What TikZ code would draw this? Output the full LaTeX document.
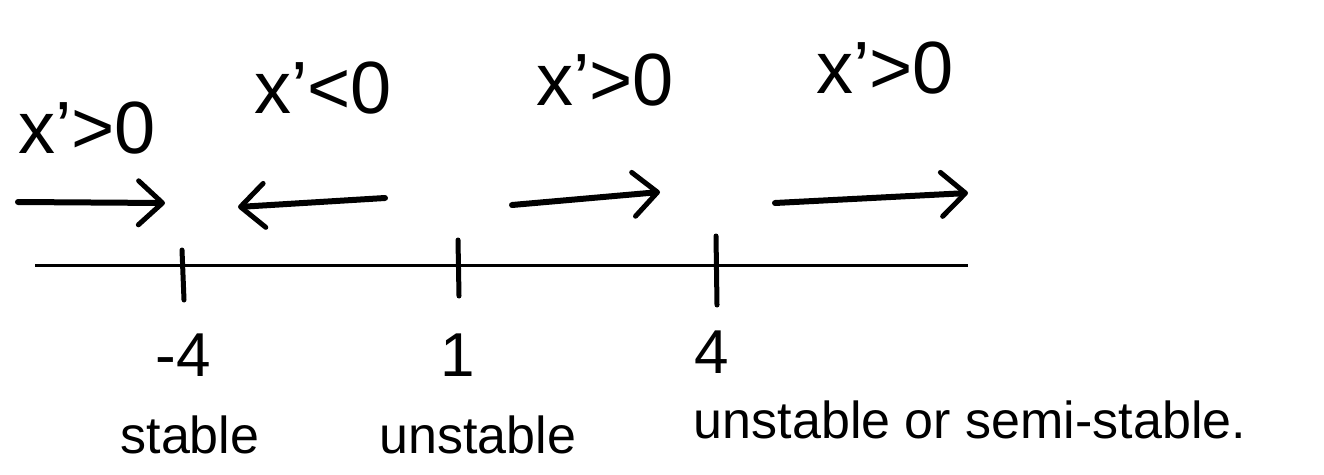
\documentclass[tikz,border=0pt]{standalone}
\usepackage{fontspec}
\setmainfont{Liberation Sans}
\usetikzlibrary{arrows.meta}
\begin{document}
\begin{tikzpicture}[x=1pt,y=-1pt,
  lbl/.style={inner sep=0pt,font=\fontsize{52}{56}\selectfont},
  big/.style={inner sep=0pt,font=\fontsize{74}{80}\selectfont},
  num/.style={inner sep=0pt,font=\fontsize{62}{66}\selectfont},
  flow/.style={line width=6pt,line cap=round,-{Straight Barb[length=24pt,width=44pt,line width=5pt,round]}},
  axis/.style={line width=3pt},
  tick/.style={line width=5pt,line cap=round}]
\useasboundingbox (0,0) rectangle (1324,474);
% axis
\coordinate (L) at (35,265);
\coordinate (R) at (968,265);
\draw[axis] (L) -- (R);
% ticks
\coordinate (t1a) at (182,250); \coordinate (t1b) at (184,300);
\coordinate (t2a) at (458,240); \coordinate (t2b) at (459,296);
\coordinate (t3a) at (716,236); \coordinate (t3b) at (717,305);
\draw[tick] (t1a) -- (t1b);
\draw[tick] (t2a) -- (t2b);
\draw[tick] (t3a) -- (t3b);
% arrows
\coordinate (a1s) at (18,202); \coordinate (a1e) at (165,203);
\coordinate (a2s) at (385,198); \coordinate (a2e) at (238,207);
\coordinate (a3s) at (512,205); \coordinate (a3e) at (660,192);
\coordinate (a4s) at (775,203); \coordinate (a4e) at (968,193);
\draw[flow] (a1s) -- (a1e);
\draw[flow] (a2s) -- (a2e);
\draw[flow] (a3s) -- (a3e);
\draw[flow] (a4s) -- (a4e);
% top labels
\node[big] (d1) at (87,128) {x'>0};
\node[big] (d2) at (323,88) {x'<0};
\node[big] (d3) at (605,80) {x'>0};
\node[big] (d4) at (885,68) {x'>0};
% tick labels
\node[num] (v1) at (183,355) {-4};
\node[num] (v2) at (458,355) {1};
\node[num] (v3) at (712,352) {4};
% classification
\node[lbl] (s1) at (190,435) {stable};
\node[lbl] (s2) at (478,435) {unstable};
\node[lbl] (s3) at (970,420) {unstable or semi-stable.};
\end{tikzpicture}
\end{document}
